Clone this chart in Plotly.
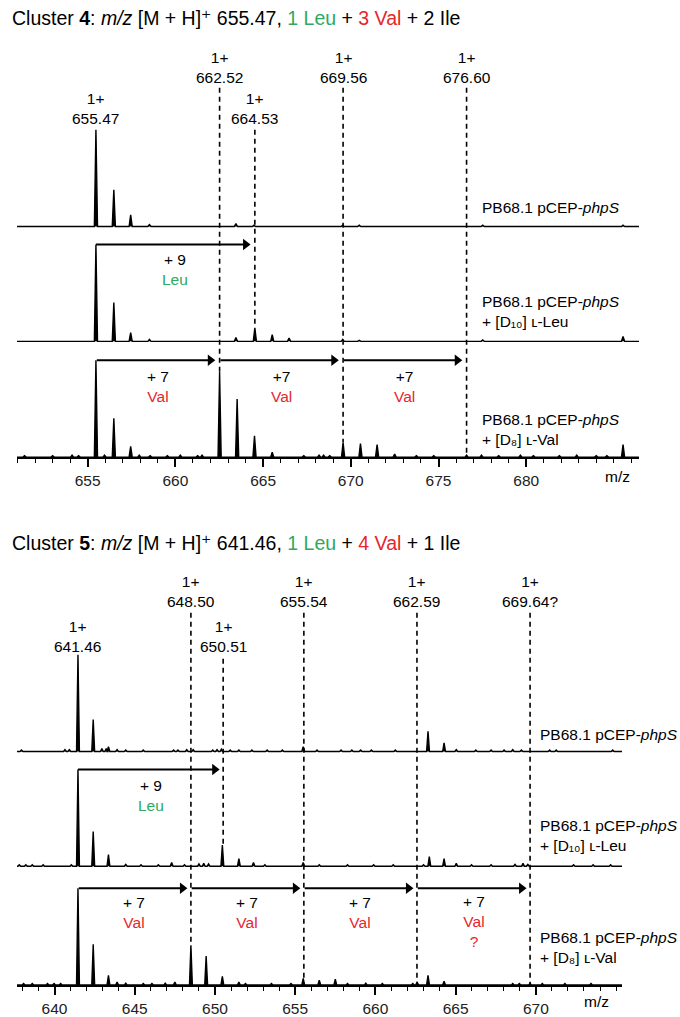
import plotly.graph_objects as go

# ---------------- Cluster 4 : peak lists (m/z, relative intensity %) ----------------
C4_CTRL_MZ = [655.47, 656.49, 657.45, 658.52, 663.45, 664.48, 669.54, 670.48, 677.52, 685.52]
C4_CTRL_INT = [100, 38, 12, 2, 3, 1.5, 1.5, 1.5, 1.5, 1.5]

C4_LEU_MZ = [655.47, 656.49, 657.45, 658.52, 663.45, 664.53, 665.52, 666.48, 669.54, 670.48,
             677.52, 685.52]
C4_LEU_INT = [100, 40, 9, 2, 4, 14, 7, 3.5, 2, 1, 1.5, 5]

C4_VAL_MZ = [651.40, 653.00, 654.11, 654.48, 655.47, 655.96, 656.49, 657.45, 657.94, 658.56,
             659.54, 660.28, 661.27, 661.52, 662.52, 663.52, 664.51, 665.52, 667.32, 668.19,
             668.45, 668.80, 669.56, 670.55, 671.50, 672.50, 673.74, 674.73, 676.60, 677.45,
             678.43, 679.67, 680.41, 681.89, 682.88, 683.99, 684.60, 685.52]
C4_VAL_INT = [1.5, 1.5, 2, 1.5, 100, 2, 40, 11, 2, 1.5,
              1.5, 2, 1.5, 2, 88, 60, 22, 5, 1.5, 2,
              2, 1.5, 15, 14, 13, 3, 1.5, 1.5, 2, 2,
              1.5, 2, 1.5, 1.5, 2, 1.5, 1.5, 13]

C4_LABEL_MZ = [655.47, 662.52, 664.53, 669.56, 676.60]
C4_LABEL_SUFFIX = ["", "", "", "", ""]
C4_LEU_STEP = [655.47, 664.53]
C4_LEU_TEXT = "+ 9"
C4_VAL_STEPS = [655.47, 662.52, 669.56, 676.60]
C4_VAL_TEXT = ["+ 7", "+7", "+7"]
C4_VAL_NOTE = ["", "", ""]
C4_TICKS = [655, 660, 665, 670, 675, 680]

# ---------------- Cluster 5 : peak lists (m/z, relative intensity %) ----------------
C5_CTRL_MZ = [637.94, 640.65, 640.92, 641.46, 642.41, 642.95, 643.22, 643.36, 643.90, 644.44,
              645.53, 647.42, 647.69, 648.24, 648.64, 649.86, 650.13, 650.40, 650.95, 651.49,
              652.30, 653.25, 654.20, 655.50, 656.36, 657.86, 658.53, 659.08, 659.75, 661.24,
              663.28, 664.28, 665.04, 666.26, 667.21, 668.02, 668.56, 669.10, 670.86, 671.27,
              674.79]
C5_CTRL_INT = [1.5, 2, 2, 100, 33, 3, 3, 5, 2, 1.5,
               1.5, 1.5, 1.5, 2, 2, 1.5, 2, 2.5, 1.5, 1.5,
               1.5, 1.5, 1.5, 5, 1.5, 1.5, 1.5, 1.5, 1.5, 1.5,
               21, 9, 2, 1.5, 1.5, 1.5, 2, 1.5, 1.5, 1.5,
               1.5]

C5_LEU_MZ = [637.80, 638.21, 638.61, 639.29, 641.05, 641.46, 642.41, 643.36, 644.44, 645.39,
             646.47, 647.30, 648.10, 649.00, 649.30, 649.60, 650.46, 651.49, 652.40, 653.11,
             655.50, 656.50, 658.26, 659.89, 661.11, 663.00, 663.36, 664.28, 665.04, 665.99,
             667.21, 668.70, 669.20, 669.50, 672.35, 673.57, 674.66]
C5_LEU_INT = [1.5, 1.5, 1.5, 1.5, 1.5, 100, 36, 12, 2, 1.5,
              1.5, 4, 1.5, 2.5, 3, 2.5, 22, 8, 4, 1.5,
              4, 1.5, 1.5, 1.5, 1.5, 1.5, 10, 8, 3, 1.5,
              1.5, 2, 3, 2, 1.5, 1.5, 1.5]

C5_VAL_MZ = [638.07, 638.61, 639.56, 639.97, 640.38, 641.46, 642.41, 643.36, 643.90, 644.44,
             645.53, 646.07, 646.90, 647.50, 648.50, 649.45, 650.46, 651.49, 651.90, 653.52,
             654.74, 655.50, 656.50, 657.50, 658.26, 659.40, 660.43, 662.33, 662.60, 663.28,
             664.28, 668.56, 668.97, 669.64, 670.40, 671.81, 673.44]
C5_VAL_INT = [1.5, 1.5, 1.5, 1.5, 1.5, 100, 42, 10, 3, 2,
              1.5, 1.5, 2, 3, 41, 30, 9, 3, 1.5, 1.5,
              1.5, 7, 5, 6, 1.5, 2, 1.5, 1.5, 3, 10,
              4, 1.5, 1.5, 2, 1.5, 1.5, 1.5]

C5_LABEL_MZ = [641.46, 648.50, 650.51, 655.54, 662.59, 669.64]
C5_LABEL_SUFFIX = ["", "", "", "", "", "?"]
C5_LEU_STEP = [641.46, 650.51]
C5_LEU_TEXT = "+ 9"
C5_VAL_STEPS = [641.46, 648.50, 655.54, 662.59, 669.64]
C5_VAL_TEXT = ["+ 7", "+ 7", "+ 7", "+ 7"]
C5_VAL_NOTE = ["", "", "", "?"]
C5_TICKS = [640, 645, 650, 655, 660, 665, 670]

SAMPLE_NAMES = [
    "PB68.1 pCEP-<i>phpS</i>",
    "PB68.1 pCEP-<i>phpS</i><br>+ [D₁₀] ʟ-Leu",
    "PB68.1 pCEP-<i>phpS</i><br>+ [D₈] ʟ-Val",
]

# ---------------- styling / layout constants ----------------
W, H = 680, 1017
FONT = "Liberation Sans, Arial, DejaVu Sans, sans-serif"
GREEN = "#2fa862"
RED = "#e5262d"
PPP = 0.97        # pixels per % intensity
HW = 0.09         # half base width of a drawn peak (m/z)
DASH = "5px,4px"
ARROW_GAP = 0.25  # space left between an arrow tip and the target line (m/z)
HEAD_LEN = 0.28   # arrow head half length (m/z)

panels = [
    dict(
        xa="x", ya="y", dom_px=(17, 639), xr=(650.97, 686.43),
        axis_px=458, top_px=30, base_px=[227, 342, 458],
        spectra=[(C4_CTRL_MZ, C4_CTRL_INT), (C4_LEU_MZ, C4_LEU_INT), (C4_VAL_MZ, C4_VAL_INT)],
        labels=C4_LABEL_MZ, suffix=C4_LABEL_SUFFIX,
        label_row=[1, 0, 1, 0, 0], row_px=[68, 109], dash_start_px=[88, 130],
        dash_end=[None, 2, 1, 2, 2],
        leu=C4_LEU_STEP, leu_text=C4_LEU_TEXT, leu_px=(260, 280),
        val=C4_VAL_STEPS, val_text=C4_VAL_TEXT, val_note=C4_VAL_NOTE, val_px=(378, 397),
        name_x_px=480, name_px=[208, 312, 430],
        title="Cluster <b>4</b>: <i>m/z</i> [M + H]⁺ 655.47, "
              f"<span style='color:{GREEN}'>1 Leu</span> + "
              f"<span style='color:{RED}'>3 Val</span> + 2 Ile",
        title_px=18, mz_px=(617, 477),
        ticks=C4_TICKS,
    ),
    dict(
        xa="x2", ya="y2", dom_px=(17, 622), xr=(637.66, 675.37),
        axis_px=987, top_px=560, base_px=[753, 868, 987],
        spectra=[(C5_CTRL_MZ, C5_CTRL_INT), (C5_LEU_MZ, C5_LEU_INT), (C5_VAL_MZ, C5_VAL_INT)],
        labels=C5_LABEL_MZ, suffix=C5_LABEL_SUFFIX,
        label_row=[1, 0, 1, 0, 0, 0], row_px=[593, 638], dash_start_px=[614, 660],
        dash_end=[None, 2, 1, 2, 2, 2],
        leu=C5_LEU_STEP, leu_text=C5_LEU_TEXT, leu_px=(788, 807),
        val=C5_VAL_STEPS, val_text=C5_VAL_TEXT, val_note=C5_VAL_NOTE, val_px=(905, 923),
        name_x_px=538, name_px=[736, 837, 949],
        title="Cluster <b>5</b>: <i>m/z</i> [M + H]⁺ 641.46, "
              f"<span style='color:{GREEN}'>1 Leu</span> + "
              f"<span style='color:{RED}'>4 Val</span> + 1 Ile",
        title_px=544, mz_px=(596, 1003),
        ticks=C5_TICKS,
    ),
]


def y_of(p, px):
    return (p["axis_px"] - px) / PPP


def spectrum_xy(mz, inten, base, xmin, xmax):
    xs, ys = [xmin], [base]
    for m, h in sorted(zip(mz, inten)):
        xs += [m - HW, m, m + HW]
        ys += [base, base + h, base]
    xs.append(xmax)
    ys.append(base)
    return xs, ys


def height_at(mz, inten, target):
    best = 0
    for m, h in zip(mz, inten):
        if abs(m - target) < 0.12:
            best = max(best, h)
    return best


def add_arrow(fig, xa, ya, x_from, x_to, y):
    """Horizontal shift arrow: shaft as a line, solid triangular head at the end."""
    head_c = x_to - ARROW_GAP - HEAD_LEN
    fig.add_trace(go.Scatter(
        x=[x_from, head_c], y=[y, y], mode="lines",
        line=dict(color="black", width=1.9), xaxis=xa, yaxis=ya,
        hoverinfo="skip", showlegend=False))
    fig.add_trace(go.Scatter(
        x=[head_c], y=[y], mode="markers",
        marker=dict(symbol="triangle-right", size=10, color="black",
                    line=dict(width=0)),
        xaxis=xa, yaxis=ya, hoverinfo="skip", showlegend=False))


fig = go.Figure()
shapes, annotations = [], []

for i, p in enumerate(panels):
    xa, ya = p["xa"], p["ya"]
    bases = [y_of(p, b) for b in p["base_px"]]

    # spectra
    for (mz, inten), base in zip(p["spectra"], bases):
        xs, ys = spectrum_xy(mz, inten, base, p["xr"][0] - 1, p["xr"][1] + 1)
        fig.add_trace(go.Scatter(
            x=xs, y=ys, mode="lines", fill="toself", fillcolor="black",
            line=dict(color="black", width=1.4), xaxis=xa, yaxis=ya,
            hoverinfo="skip", showlegend=False))

    # peak labels and dashed guide lines
    for mz, suf, row, end in zip(p["labels"], p["suffix"], p["label_row"], p["dash_end"]):
        annotations.append(dict(
            x=mz, y=y_of(p, p["row_px"][row]), xref=xa, yref=ya,
            text=f"1+<br>{mz:.2f}{suf}", showarrow=False,
            font=dict(size=15.5, color="black", family=FONT),
            xanchor="center", yanchor="middle"))
        if end is not None:
            emz, eint = p["spectra"][end]
            shapes.append(dict(
                type="line", xref=xa, yref=ya, x0=mz, x1=mz,
                y0=y_of(p, p["dash_start_px"][row]),
                y1=bases[end] + height_at(emz, eint, mz),
                line=dict(color="black", width=1.6, dash=DASH)))

    # Leu shift arrow
    leu_top = bases[1] + height_at(*p["spectra"][1], p["leu"][0])
    add_arrow(fig, xa, ya, p["leu"][0], p["leu"][1], leu_top)
    mid = (p["leu"][0] + p["leu"][1]) / 2
    annotations.append(dict(
        x=mid, y=y_of(p, (p["leu_px"][0] + p["leu_px"][1]) / 2), xref=xa, yref=ya,
        text=f"{p['leu_text']}<br><span style='color:{GREEN}'>Leu</span>",
        showarrow=False, font=dict(size=15.5, color="black", family=FONT)))

    # Val shift arrows
    val_top = bases[2] + height_at(*p["spectra"][2], p["val"][0])
    for a, b, txt, note in zip(p["val"][:-1], p["val"][1:], p["val_text"], p["val_note"]):
        add_arrow(fig, xa, ya, a + 0.05, b, val_top)
        label = f"{txt}<br><span style='color:{RED}'>Val</span>"
        if note:
            label += f"<br><span style='color:{RED}'>{note}</span>"
        n_lines = 3 if note else 2
        y0, y1 = p["val_px"]
        cy = y0 + (y1 - y0) * (n_lines - 1) / 2
        annotations.append(dict(
            x=(a + b) / 2, y=y_of(p, cy), xref=xa, yref=ya, text=label,
            showarrow=False, font=dict(size=15.5, color="black", family=FONT)))

    # sample names
    for name, npx in zip(SAMPLE_NAMES, p["name_px"]):
        annotations.append(dict(
            x=p["name_x_px"] / W, y=1 - npx / H, xref="paper", yref="paper",
            text=name, showarrow=False, xanchor="left", yanchor="middle", align="left",
            font=dict(size=15.5, color="black", family=FONT)))

    # panel title and axis unit
    annotations.append(dict(
        x=10 / W, y=1 - p["title_px"] / H, xref="paper", yref="paper",
        text=p["title"], showarrow=False, xanchor="left", yanchor="middle",
        font=dict(size=19.5, color="black", family=FONT)))
    annotations.append(dict(
        x=p["mz_px"][0] / W, y=1 - p["mz_px"][1] / H, xref="paper", yref="paper",
        text="m/z", showarrow=False, xanchor="center", yanchor="middle",
        font=dict(size=15.5, color="black", family=FONT)))

    axis_key = "xaxis" if i == 0 else "xaxis2"
    yaxis_key = "yaxis" if i == 0 else "yaxis2"
    fig.update_layout({
        axis_key: dict(
            domain=[p["dom_px"][0] / W, p["dom_px"][1] / W], range=list(p["xr"]),
            anchor=ya, showline=True, linewidth=2, linecolor="black",
            showgrid=False, zeroline=False,
            tickmode="array", tickvals=p["ticks"],
            ticks="outside", ticklen=8, tickwidth=1.5, tickcolor="black",
            tickfont=dict(size=15.5, color="#222", family=FONT),
            minor=dict(dtick=1, tick0=0, ticks="outside", ticklen=4,
                       tickwidth=1.3, tickcolor="black", showgrid=False),
            fixedrange=True),
        yaxis_key: dict(
            domain=[1 - p["axis_px"] / H, 1 - p["top_px"] / H],
            range=[0, y_of(p, p["top_px"])], anchor=xa, visible=False,
            showgrid=False, zeroline=False, fixedrange=True),
    })

fig.update_layout(
    width=W, height=H, margin=dict(l=0, r=0, t=0, b=0),
    paper_bgcolor="white", plot_bgcolor="rgba(0,0,0,0)",
    shapes=shapes, annotations=annotations, showlegend=False,
    font=dict(family=FONT, color="black"),
)

fig.write_html("out.html")
